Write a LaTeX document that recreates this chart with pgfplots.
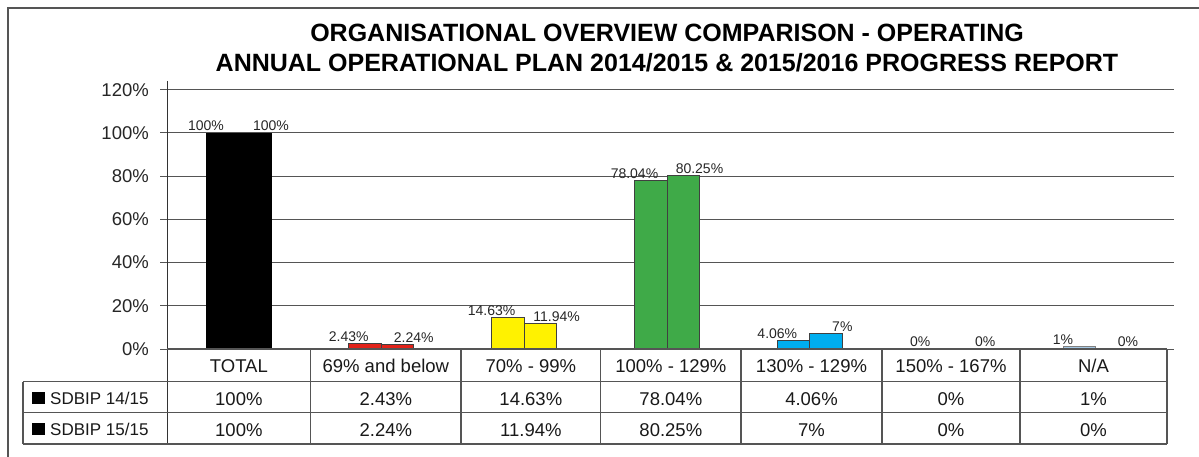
\documentclass[border=0pt]{standalone}
\usepackage{fontspec}
\setmainfont{Liberation Sans}
\usepackage{pgfplots}
\pgfplotsset{compat=1.18}

\definecolor{cred}{HTML}{E2231A}
\definecolor{cyel}{HTML}{FFF200}
\definecolor{cgrn}{HTML}{3FAA48}
\definecolor{cblu}{HTML}{00AEEF}
\definecolor{clbl}{HTML}{A5C8E4}
\definecolor{cedge}{HTML}{404040}
\definecolor{cgrid}{HTML}{555555}

\pgfplotsset{
  barL/.style={fill=#1, draw=cedge, line width=0.8pt, bar shift=-16.25pt,
    nodes near coords, point meta=explicit symbolic,
    every node near coord/.append style={xshift=-16.25pt}},
  barR/.style={fill=#1, draw=cedge, line width=0.8pt, bar shift=16.25pt,
    nodes near coords, point meta=explicit symbolic,
    every node near coord/.append style={xshift=16.25pt}},
}

\begin{document}
\begin{tikzpicture}[x=1pt,y=-1pt]
\useasboundingbox (0,0) rectangle (1199,457);
\draw[cgrid, line width=1.2pt] (1199,8) -- (8,8) -- (8,457);

\node[font=\fontsize{25}{30}\selectfont\bfseries, anchor=base] at (667,41.7) {ORGANISATIONAL OVERVIEW COMPARISON - OPERATING};
\node[font=\fontsize{25}{30}\selectfont\bfseries, anchor=base] at (667,71.7) {ANNUAL OPERATIONAL PLAN 2014/2015 \& 2015/2016 PROGRESS REPORT};

\begin{axis}[
  at={(167pt,-349pt)}, anchor=south west,
  scale only axis, width=1000pt, height=259.2pt,
  xmin=-0.5, xmax=6.5, ymin=0, ymax=120,
  xtick=\empty,
  ytick={0,20,40,60,80,100,120},
  yticklabels={0\%,20\%,40\%,60\%,80\%,100\%,120\%},
  yticklabel style={font=\fontsize{18.5}{20}\selectfont, text=black!85, anchor=east, inner sep=0pt, xshift=-11pt},
  ymajorgrids, grid style={cgrid, line width=1pt},
  axis line style={draw=none},
  tick align=outside, major tick length=7pt,
  tick style={cgrid, line width=1pt},
  clip=false,
  ybar, bar width=32.5pt,
  every node near coord/.append style={font=\fontsize{14}{15}\selectfont, text=black!85, inner sep=1.5pt},
]
\addplot[barL=black, draw=black] coordinates {(0,100) [100\%]};
\addplot[barR=black, draw=black] coordinates {(0,100) [100\%]};
\addplot[barL=cred] coordinates {(1,2.43) [2.43\%]};
\addplot[barR=cred] coordinates {(1,2.24) [2.24\%]};
\addplot[barL=cyel] coordinates {(2,14.63) [14.63\%]};
\addplot[barR=cyel] coordinates {(2,11.94) [11.94\%]};
\addplot[barL=cgrn] coordinates {(3,78.04) [78.04\%]};
\addplot[barR=cgrn] coordinates {(3,80.25) [80.25\%]};
\addplot[barL=cblu] coordinates {(4,4.06) [4.06\%]};
\addplot[barR=cblu] coordinates {(4,7) [7\%]};
\addplot[barL=white, draw=none] coordinates {(5,0) [0\%]};
\addplot[barR=white, draw=none] coordinates {(5,0) [0\%]};
\addplot[barL=clbl, draw=gray] coordinates {(6,1) [1\%]};
\addplot[barR=clbl, draw=none] coordinates {(6,0) [0\%]};
\end{axis}

% y axis line
\draw[black!80, line width=1pt] (167,81) -- (167,444);
% table
\begin{scope}[cgrid, line width=1.2pt]
\draw (167,349) -- (1167,349);
\draw (23,381.7) -- (1167,381.7);
\draw (23,412.7) -- (1167,412.7);
\draw (23,444) -- (1167,444);
\draw (23,381.7) -- (23,444);
\foreach \xx in {310.7,461,600.7,741,882,1020,1167} {\draw (\xx,349) -- (\xx,444);}
\end{scope}

\begin{scope}[every node/.style={font=\fontsize{18.5}{20}\selectfont, text=black!90, anchor=base}]
\foreach \cx/\cat/\va/\vb in {238.85/TOTAL/100\%/100\%, 385.85/69\% and below/2.43\%/2.24\%, 530.85/70\% - 99\%/14.63\%/11.94\%, 670.85/100\% - 129\%/78.04\%/80.25\%, 811.5/130\% - 129\%/4.06\%/7\%, 951/150\% - 167\%/0\%/0\%, 1093.5/N\slash A/1\%/0\%} {
  \node at (\cx,372.3) {\cat};
  \node at (\cx,405) {\va};
  \node at (\cx,436) {\vb};
}
\end{scope}

\fill[black] (32,391.5) rectangle (45,404);
\fill[black] (32,422.5) rectangle (45,435);
\node[font=\fontsize{17}{19}\selectfont, anchor=base west, inner sep=0pt, text=black!90] at (50,404.5) {SDBIP 14/15};
\node[font=\fontsize{17}{19}\selectfont, anchor=base west, inner sep=0pt, text=black!90] at (50,435.5) {SDBIP 15/15};
\end{tikzpicture}
\end{document}
